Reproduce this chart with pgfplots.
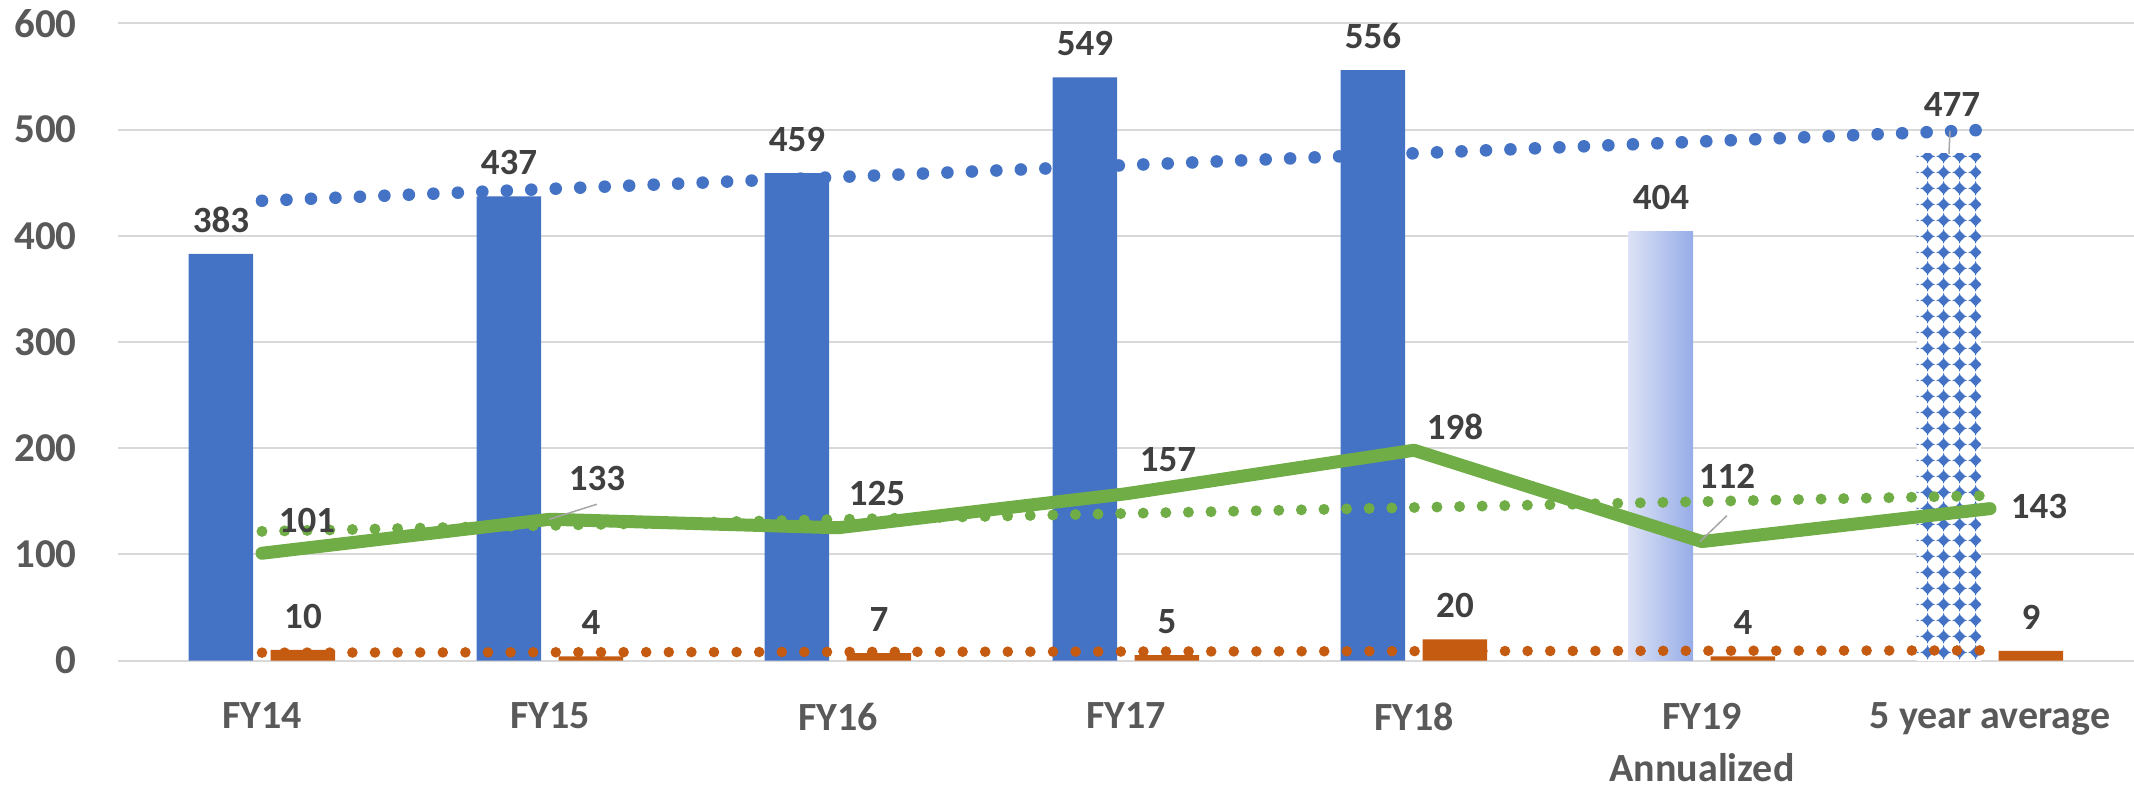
\documentclass[border=0pt]{standalone}
\usepackage{fontspec}
\setmainfont{Carlito}
\usepackage{pgfplots}
\usepackage{pgfplotstable}
\pgfplotsset{compat=1.18}
\usetikzlibrary{patterns}
\definecolor{cblue}{HTML}{4472C4}
\definecolor{corange}{HTML}{C55A11}
\definecolor{cgreen}{HTML}{70AD47}
\definecolor{cgrid}{HTML}{D9D9D9}
\definecolor{ctick}{HTML}{595959}
\definecolor{clabel}{HTML}{404040}
\definecolor{cgradL}{HTML}{DCE2F5}
\definecolor{cgradR}{HTML}{96ACE8}
\definecolor{clead}{HTML}{A6A6A6}

\pgfdeclarepatternformonly{bluediamonds}{\pgfpoint{0pt}{0pt}}{\pgfpoint{8pt}{8pt}}{\pgfpoint{8pt}{8pt}}{
  \pgfpathmoveto{\pgfpoint{4pt}{0.9pt}}
  \pgfpathlineto{\pgfpoint{7.1pt}{4pt}}
  \pgfpathlineto{\pgfpoint{4pt}{7.1pt}}
  \pgfpathlineto{\pgfpoint{0.9pt}{4pt}}
  \pgfpathclose
  \pgfusepath{fill}
  \pgfsetlinewidth{0.5pt}
  \pgfpathmoveto{\pgfpoint{4pt}{0.3pt}}\pgfpathlineto{\pgfpoint{4pt}{7.7pt}}
  \pgfpathmoveto{\pgfpoint{0.3pt}{4pt}}\pgfpathlineto{\pgfpoint{7.7pt}{4pt}}
  \pgfusepath{stroke}
}

\pgfplotstableread{
x blue orange green
0 383 10 101
1 437 4 133
2 459 7 125
3 549 5 157
4 556 20 198
5 404 4 112
6 477 9 143
}\datatable

\tikzset{
  lbl/.style={font=\fontsize{18.5}{18.5}\selectfont\bfseries, text=clabel, inner sep=0pt},
  blbl/.style={lbl, anchor=base, xshift=-20.5pt, yshift=10.8pt},
  olbl/.style={lbl, anchor=base, xshift=20.5pt, yshift=10.8pt},
}

\begin{document}
\begin{tikzpicture}
\begin{axis}[
  at={(0pt,0pt)}, anchor=south west,
  width=1008pt, height=318.6pt, scale only axis,
  xmin=-0.5, xmax=6.5, ymin=0, ymax=600,
  xtick={0,1,2,3,4,5,6},
  xticklabels={FY14,FY15,FY16,FY17,FY18,{FY19\\Annualized},5 year average},
  ytick={0,100,200,300,400,500,600},
  axis line style={draw=none},
  major tick length=0pt,
  ymajorgrids, grid style={cgrid, line width=1pt},
  clip=false,
  /pgf/number format/assume math mode=true,
  yticklabel style={font=\fontsize{20.5}{20.5}\selectfont\bfseries, text=ctick, anchor=east, inner sep=0pt, xshift=-20.5pt},
  xticklabel style={font=\fontsize{20}{26}\selectfont\bfseries, text=ctick, align=center, anchor=north, inner sep=0pt, yshift=-21pt},
]
% blue bars
\addplot[ybar, bar width=32.25pt, bar shift=-20.5pt, fill=cblue, draw=none]
  coordinates {(0,383) (1,437) (2,459) (3,549) (4,556)};
\addplot[ybar, bar width=32.25pt, bar shift=-20.5pt, left color=cgradL, right color=cgradR, draw=none]
  coordinates {(5,404)};
\addplot[ybar, bar width=32.25pt, bar shift=-20.5pt, fill=white, draw=none]
  coordinates {(6,477)};
\addplot[ybar, bar width=32.25pt, bar shift=-20.5pt, pattern=bluediamonds, pattern color=cblue, draw=none]
  coordinates {(6,477)};
% orange bars
\addplot[ybar, bar width=32.25pt, bar shift=20.5pt, fill=corange, draw=none]
  table[x=x, y=orange] {\datatable};
% trend lines
\addplot[cblue, line width=6.3pt, line cap=round, dash pattern=on 0pt off 12.25pt]
  coordinates {(0,432.9) (6,499.9)};
\addplot[cgreen, line width=5.5pt, line cap=round, dash pattern=on 0pt off 11.3pt]
  coordinates {(0,121.6) (6,155.3)};
\addplot[corange, line width=5.3pt, line cap=round, dash pattern=on 0pt off 11.3pt]
  coordinates {(0,7.4) (6,9.5)};
% green line
\addplot[cgreen, line width=6.5pt, line cap=round, line join=round]
  table[x=x, y=green] {\datatable};

% blue labels
\node[blbl] at (axis cs:0,383) {383};
\node[blbl] at (axis cs:1,437) {437};
\node[blbl] at (axis cs:2,459) {459};
\node[blbl] at (axis cs:3,549) {549};
\node[blbl] at (axis cs:4,556) {556};
\node[blbl] at (axis cs:5,404) {404};
\node[lbl, anchor=center, xshift=-19pt, yshift=24.5pt] at (axis cs:6,477) {477};
\draw[clead, line width=0.75pt] ([xshift=-20.5pt]axis cs:6,477) -- ++(0.5pt,11.5pt);
% orange labels
\node[olbl] at (axis cs:0,10) {10};
\node[olbl] at (axis cs:1,4) {4};
\node[olbl] at (axis cs:2,7) {7};
\node[olbl] at (axis cs:3,5) {5};
\node[olbl] at (axis cs:4,20) {20};
\node[olbl] at (axis cs:5,4) {4};
\node[olbl] at (axis cs:6,9) {9};
% green labels
\node[lbl, xshift=22.5pt, yshift=16.5pt] at (axis cs:0,101) {101};
\draw[clead, line width=0.75pt] ([xshift=-0.3pt]axis cs:1,133) -- ++(23.7pt,7.5pt);
\node[lbl, xshift=23.5pt, yshift=20.5pt] at (axis cs:1,133) {133};
\node[lbl, xshift=19.5pt, yshift=17pt] at (axis cs:2,125) {125};
\node[lbl, xshift=21pt, yshift=17pt] at (axis cs:3,157) {157};
\node[lbl, xshift=20.5pt, yshift=11.5pt] at (axis cs:4,198) {198};
\draw[clead, line width=0.75pt] ([xshift=-1pt]axis cs:5,112) -- ++(13.5pt,13pt);
\node[lbl, xshift=12.5pt, yshift=32.5pt] at (axis cs:5,112) {112};
\node[lbl, xshift=24.5pt, yshift=1pt] at (axis cs:6,143) {143};
\end{axis}
\pgfresetboundingbox
\path[use as bounding box] (-59pt,-63.25pt) rectangle (1008pt,330.25pt);
\end{tikzpicture}
\end{document}
